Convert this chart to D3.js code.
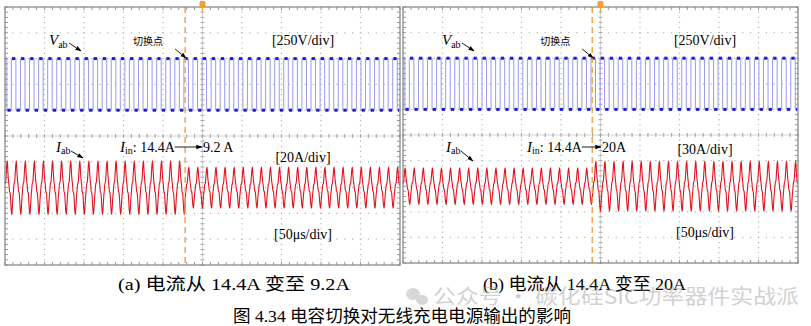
<!DOCTYPE html>
<html><head><meta charset="utf-8">
<script src="https://cdn.jsdelivr.net/npm/d3@7"></script>
<style>body{margin:0;background:#fff}svg{display:block}</style>
</head><body>
<svg id="c" width="811" height="326"></svg>
<script>
// ---------------- data ----------------
const panelIds = ["a", "b"];
const captions = ["(a)  电流从 14.4A 变至 9.2A", "(b)  电流从 14.4A 变至 20A"];
const figureTitle = "图 4.34 电容切换对无线充电电源输出的影响";
const watermark = "公众号 · 碳化硅SIC功率器件实战派";
const voltLabels = ["[250V/div]", "[250V/div]"];
const currLabels = ["[20A/div]", "[30A/div]"];
const timeLabels = ["[50μs/div]", "[50μs/div]"];
const switchLabel = "切换点";
const iinBefore = ["14.4A", "14.4A"];
const iinAfter = ["9.2 A", "20A"];
const voltPerDiv = [250, 250];
const currPerDiv = [20, 30];
const timeWindowUs = [-250, 250];
const switchTimeUs = [-22, -10.5];
const switchFreqKHz = [87, 87];
const vabAmplitudeV = [250, 250];
const iabAmpBeforeA = [20.8, 21.7];
const iabAmpAfterA = [16.0, 29.4];
// one period of the Iab waveform, normalised
const iabPeriodShape = [-1, -0.7, -0.35, -0.1, 0.15, 0.2, 0.5, 0.85, 1, 0.6, 0.3, 0.1, -0.15, -0.2, -0.5, -0.85];

// ---------------- layout ----------------
const layout = [
  {x0: 5, x1: 400, y0: 7, y1: 265},
  {x0: 403, x1: 798, y0: 7, y1: 263}
];
const svg = d3.select("#c");
const serif = "'Liberation Serif','Times New Roman','Noto Sans CJK SC',serif";
const cjk = "'Noto Sans CJK SC','Noto Sans',sans-serif";

svg.append("defs").append("marker")
  .attr("id", "ah").attr("viewBox", "0 0 10 10").attr("refX", 9).attr("refY", 5)
  .attr("markerWidth", 7).attr("markerHeight", 7).attr("orient", "auto")
  .append("path").attr("d", "M0,1.5 L10,5 L0,8.5 Z").attr("fill", "#000");

panelIds.forEach((id, p) => {
  const L = layout[p];
  const x = d3.scaleLinear().domain(timeWindowUs).range([L.x0, L.x1]);
  const y = d3.scaleLinear().domain([0, 10]).range([L.y0, L.y1]);
  const g = svg.append("g");
  const xDivs = d3.range(0, 11).map(d => timeWindowUs[0] + d * 50);
  const xMinor = d3.range(0, 51).map(d => timeWindowUs[0] + d * 10);
  const yDivs = d3.range(0, 11);
  const yMinor = d3.range(0, 51).map(d => d / 5);

  // dotted grid
  const dots = [];
  xDivs.slice(1, -1).forEach(t => yMinor.forEach(v => dots.push([x(t), y(v)])));
  yDivs.slice(1, -1).forEach(v => xMinor.forEach(t => dots.push([x(t), y(v)])));
  g.selectAll(".dot").data(dots).join("rect")
    .attr("x", d => d[0] - 0.6).attr("y", d => d[1] - 0.6)
    .attr("width", 1.2).attr("height", 1.2).attr("fill", "#b4b4b4");

  // center axes
  g.append("line").attr("x1", x(0)).attr("x2", x(0)).attr("y1", y(0)).attr("y2", y(10))
    .attr("stroke", "#d6d6d6").attr("stroke-width", 1);
  g.append("line").attr("x1", x(timeWindowUs[0])).attr("x2", x(timeWindowUs[1])).attr("y1", y(5)).attr("y2", y(5))
    .attr("stroke", "#d6d6d6").attr("stroke-width", 1);
  g.selectAll(".tcx").data(yMinor).join("line")
    .attr("x1", x(0) - 2).attr("x2", x(0) + 2).attr("y1", d => y(d)).attr("y2", d => y(d))
    .attr("stroke", "#a8a8a8");
  g.selectAll(".tcy").data(xMinor).join("line")
    .attr("x1", d => x(d)).attr("x2", d => x(d)).attr("y1", y(5) - 2).attr("y2", y(5) + 2)
    .attr("stroke", "#a8a8a8");
  // border ticks
  g.selectAll(".tb").data(xMinor).join("line")
    .attr("x1", d => x(d)).attr("x2", d => x(d)).attr("y1", y(10)).attr("y2", y(10) - 3)
    .attr("stroke", "#999");
  g.selectAll(".tt").data(xMinor).join("line")
    .attr("x1", d => x(d)).attr("x2", d => x(d)).attr("y1", y(0)).attr("y2", y(0) + 3)
    .attr("stroke", "#999");
  g.selectAll(".tl").data(yMinor).join("line")
    .attr("x1", x(timeWindowUs[0])).attr("x2", x(timeWindowUs[0]) + 3).attr("y1", d => y(d)).attr("y2", d => y(d))
    .attr("stroke", "#999");
  g.selectAll(".tr").data(yMinor).join("line")
    .attr("x1", x(timeWindowUs[1])).attr("x2", x(timeWindowUs[1]) - 3).attr("y1", d => y(d)).attr("y2", d => y(d))
    .attr("stroke", "#999");

  // Vab square wave
  const T = 1000 / switchFreqKHz[p];
  const vy = v => y(3 - v / voltPerDiv[p]);
  const edges = [];
  for (let t = timeWindowUs[0] - T * 0.3; t < timeWindowUs[1] + T; t += T / 2) edges.push(t);
  const clip = t => Math.max(timeWindowUs[0], Math.min(timeWindowUs[1], t));
  const vPts = [];
  const segs = [];
  edges.forEach((t, i) => {
    const lv = (i % 2 === 0 ? 1 : -1) * vabAmplitudeV[p];
    const a = clip(t), b = clip(t + T / 2);
    if (b > a) {
      vPts.push([a, lv], [b, lv]);
      segs.push([a + T * 0.07, b - T * 0.07, lv]);
    }
  });
  const line = d3.line().x(d => x(d[0])).y(d => vy(d[1]));
  g.append("path").attr("d", line(vPts)).attr("fill", "none")
    .attr("stroke", "#9a9aea").attr("stroke-width", 1);
  g.selectAll(".seg").data(segs.filter(s => s[1] > s[0])).join("line")
    .attr("x1", d => x(d[0])).attr("x2", d => x(d[1]))
    .attr("y1", d => vy(d[2])).attr("y2", d => vy(d[2]))
    .attr("stroke", "#1c1cd8").attr("stroke-width", 3);

  // Iab current
  const iy = i => y(7 - i / currPerDiv[p]);
  const n = iabPeriodShape.length;
  const iPts = [];
  let k = 0;
  for (let t = timeWindowUs[0]; t <= timeWindowUs[1]; t += T / n, k++) {
    const amp = t < switchTimeUs[p] ? iabAmpBeforeA[p] : iabAmpAfterA[p];
    iPts.push([t, amp * iabPeriodShape[(k + 4) % n]]);
  }
  g.append("path").attr("d", d3.line().x(d => x(d[0])).y(d => iy(d[1])).curve(d3.curveMonotoneX)(iPts))
    .attr("fill", "none").attr("stroke", "#e0141c").attr("stroke-width", 1.1)
    .attr("stroke-linejoin", "round");

  // switch line
  g.append("line").attr("x1", x(switchTimeUs[p])).attr("x2", x(switchTimeUs[p]))
    .attr("y1", y(0)).attr("y2", y(10))
    .attr("stroke", "#f0a048").attr("stroke-width", 1.4).attr("stroke-dasharray", "6,4");

  // border
  g.append("rect").attr("x", L.x0).attr("y", L.y0).attr("width", L.x1 - L.x0).attr("height", L.y1 - L.y0)
    .attr("fill", "none").attr("stroke", "#8a8a8a").attr("stroke-width", 1.3);

  // trigger marker
  const cx = x(0);
  g.append("rect").attr("x", cx - 3).attr("y", 1).attr("width", 6).attr("height", 7).attr("rx", 1.5)
    .attr("fill", "#f0a030");
  g.append("line").attr("x1", cx).attr("x2", cx).attr("y1", 8).attr("y2", 12)
    .attr("stroke", "#f0a030").attr("stroke-width", 1.2);

  // ---- annotations ----
  const sx = x(switchTimeUs[p]);
  const vx = p === 0 ? 49 : 442;
  const vt = g.append("text").attr("x", vx).attr("y", 45).attr("font-family", serif).attr("font-size", 15);
  vt.append("tspan").attr("font-style", "italic").text("V");
  vt.append("tspan").attr("font-size", 10).attr("dy", 3).text("ab");
  g.append("line").attr("x1", vx + 20).attr("y1", 43).attr("x2", vx + 32).attr("y2", 51)
    .attr("stroke", "#000").attr("stroke-width", 0.9).attr("marker-end", "url(#ah)");
  g.append("text").attr("x", sx - 52).attr("y", 45).attr("font-family", cjk).attr("font-size", 10)
    .text(switchLabel);
  g.append("line").attr("x1", sx - 10).attr("y1", 49).attr("x2", sx + 1).attr("y2", 58)
    .attr("stroke", "#000").attr("stroke-width", 0.9).attr("marker-end", "url(#ah)");
  const mid = p === 0 ? 303 : 705;
  g.append("text").attr("x", mid).attr("y", 45).attr("text-anchor", "middle")
    .attr("font-family", serif).attr("font-size", 14).text(voltLabels[p]);
  g.append("text").attr("x", mid).attr("y", p === 0 ? 162 : 154).attr("text-anchor", "middle")
    .attr("font-family", serif).attr("font-size", 14).text(currLabels[p]);
  g.append("text").attr("x", mid).attr("y", p === 0 ? 239 : 237).attr("text-anchor", "middle")
    .attr("font-family", serif).attr("font-size", 14).text(timeLabels[p]);
  const ix = p === 0 ? 56 : 446;
  const it = g.append("text").attr("x", ix).attr("y", 152).attr("font-family", serif).attr("font-size", 15);
  it.append("tspan").attr("font-style", "italic").text("I");
  it.append("tspan").attr("font-size", 10).attr("dy", 2).text("ab");
  g.append("line").attr("x1", ix + 15).attr("y1", 151).attr("x2", ix + 27).attr("y2", p === 0 ? 158 : 161)
    .attr("stroke", "#000").attr("stroke-width", 0.9).attr("marker-end", "url(#ah)");
  const inx = p === 0 ? 120 : 527;
  const tt = g.append("text").attr("x", inx).attr("y", 152).attr("font-family", serif).attr("font-size", 14);
  tt.append("tspan").attr("font-style", "italic").attr("font-size", 15).text("I");
  tt.append("tspan").attr("font-size", 10).attr("dy", 2).text("in");
  tt.append("tspan").attr("dy", -2).text(": " + iinBefore[p]);
  const endX = inx + tt.node().getComputedTextLength();
  const afterX = p === 0 ? 203 : 602;
  g.append("line").attr("x1", endX).attr("y1", 147).attr("x2", afterX - 1).attr("y2", 147)
    .attr("stroke", "#000").attr("stroke-width", 0.9).attr("marker-end", "url(#ah)");
  g.append("text").attr("x", afterX).attr("y", 152).attr("font-family", serif).attr("font-size", 14)
    .text(iinAfter[p]);

  svg.append("text").attr("x", p === 0 ? 118 : 483).attr("y", 290)
    .attr("font-family", serif).attr("font-size", 17.5)
    .attr("textLength", p === 0 ? 232 : 203).attr("lengthAdjust", "spacingAndGlyphs")
    .text(captions[p]);
});

svg.append("text").attr("x", 233).attr("y", 322).attr("font-family", serif).attr("font-size", 17)
  .attr("textLength", 338).attr("lengthAdjust", "spacingAndGlyphs").text(figureTitle);

// watermark
const wm = svg.append("g").attr("opacity", 0.45);
wm.append("ellipse").attr("cx", 413).attr("cy", 294).attr("rx", 7).attr("ry", 6).attr("fill", "#a8a8a8");
wm.append("ellipse").attr("cx", 422).attr("cy", 300).attr("rx", 6).attr("ry", 5).attr("fill", "#a8a8a8");
wm.append("text").attr("x", 433).attr("y", 304).attr("font-family", cjk).attr("font-size", 20)
  .attr("fill", "#9a9a9a").attr("textLength", 366).attr("lengthAdjust", "spacingAndGlyphs").text(watermark);
</script>
</body></html>
